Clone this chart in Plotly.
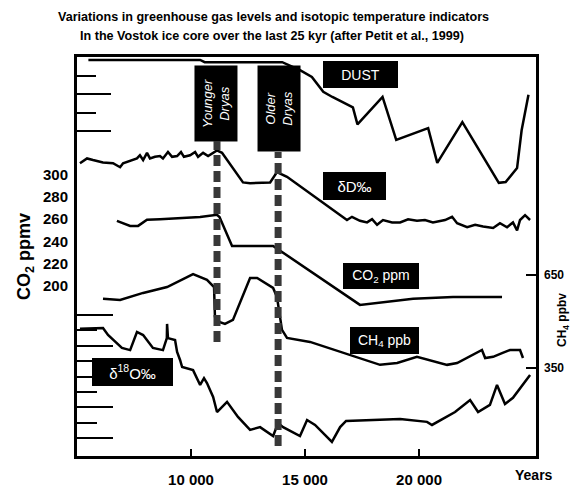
import plotly.graph_objects as go

FONT = "Liberation Sans, Arial, sans-serif"

# ---------------- data ----------------
dust_years = [5500, 8200, 10400, 10600, 12800, 14000, 14800, 15300, 15800, 16200, 17100, 17300,
              18400, 19000, 20400, 20800, 21900, 23500, 23800, 24300, 24500, 24800]
dust_ppm = [0.04, 0.04, 0.04, 0.07, 0.07, 0.07, 0.18, 0.27, 0.47, 0.54, 0.68, 0.91,
            0.54, 1.12, 0.96, 1.43, 0.88, 1.70, 1.69, 1.50, 0.99, 0.51]

dD_years = [5130, 5440, 5700, 6140, 6580, 6890, 7020, 7410, 7630, 7760, 7900, 8070, 8200, 8420,
            8640, 8770, 8990, 9170, 9390, 9560, 9690, 9960, 10180, 10310, 10530, 10750, 11140,
            11360, 11580, 12280, 12590, 13470, 13770, 14210, 16840, 17060, 17410, 17720, 17940,
            18160, 18420, 18820, 19170, 19520, 19910, 20260, 20610, 21140, 21450, 21670, 22110,
            22460, 22810, 23250, 23550, 23860, 24120, 24300, 24430, 24650, 24870]
dD_permil = [-442, -439, -440, -441.5, -442, -444.5, -442, -440, -439, -437, -440, -435.5, -439,
             -438, -437.5, -439, -435, -438, -437.5, -435, -438, -437, -435, -438, -435.5, -437.5,
             -434, -435.5, -440, -454, -454.5, -454, -447.5, -450.5, -477.5, -475.5, -478, -479,
             -477, -480.5, -477.5, -479, -479, -477, -478, -477.5, -479, -477.5, -475.5, -479.5,
             -482, -480.5, -481.5, -482.5, -479.5, -482, -479, -484, -477.5, -474.5, -477.5]

co2_years = [6750, 7330, 7680, 8070, 8640, 9520, 10400, 11140, 11250, 11800, 13600, 17410,
             19740, 21490, 23640]
co2_ppmv = [258.5, 254, 254, 259.5, 260, 261, 262, 264, 262, 236, 236, 183, 188.5, 190, 190]

ch4_years = [6140, 6890, 7900, 8950, 10090, 10700, 11010, 11050, 11270, 11490, 11840, 12590,
             12900, 13600, 13770, 13990, 14210, 15220, 18290, 19040, 19910, 21230, 21670, 22370,
             22760, 22900, 23250, 23640, 23990, 24430, 24560]
ch4_ppbv = [573, 569, 592, 611, 653, 634, 611, 515, 498, 492, 505, 640, 640, 608, 579, 473,
            447, 434, 360, 366, 386, 360, 366, 392, 408, 382, 386, 398, 408, 408, 382]

d18o_years = [5130, 5700, 6140, 6360, 6970, 7330, 7630, 7900, 8330, 8770, 8940, 8950, 8990,
              9300, 9390, 9520, 9610, 10090, 10400, 10570, 10700, 10970, 11140, 11580, 12060,
              12590, 13030, 13600, 13820, 14040, 14780, 15090, 15440, 16180, 16540, 16800,
              17850, 19170, 20350, 20570, 21580, 22240, 22590, 23110, 23420, 23770, 24120, 24870]
d18o_permil = [-54.45, -54.42, -54.42, -54.65, -55.07, -55.14, -54.55, -54.65, -55.07, -55.14,
               -54.75, -54.29, -54.75, -54.81, -55.2, -55.46, -55.69, -55.79, -56.27, -56.05,
               -56.21, -56.66, -57.15, -56.82, -57.31, -57.73, -57.64, -57.93, -57.51, -57.64,
               -57.93, -57.41, -57.57, -58.12, -57.64, -57.44, -57.41, -57.38, -57.47, -57.57,
               -57.15, -56.76, -57.15, -56.92, -56.27, -56.89, -56.69, -55.95]

event_names = ["Younger<br>Dryas", "Older<br>Dryas"]
event_years = [11140, 13820]

x_ticks = [10000, 15000, 20000]
x_ticktext = ["10 000", "15 000", "20 000"]
co2_labels = [200, 220, 240, 260, 280, 300]
co2_major = [200, 220, 240, 260, 280]
co2_minor = [190, 210, 230, 250, 270, 290]
dust_major = [0.5, 1.0]
dust_minor = [0.25, 0.75]
d18o_major = [-54, -55, -56, -57, -58]
d18o_minor = [-54.5, -55.5, -56.5, -57.5]
ch4_ticks = [350, 650]

# ---------------- figure ----------------
fig = go.Figure()
line = dict(color="black", width=2.5)
fig.add_trace(go.Scatter(x=dust_years, y=dust_ppm, mode="lines", line=line, yaxis="y3", name="Dust"))
fig.add_trace(go.Scatter(x=dD_years, y=dD_permil, mode="lines", line=line, yaxis="y4", name="δD"))
fig.add_trace(go.Scatter(x=co2_years, y=co2_ppmv, mode="lines", line=line, yaxis="y", name="CO2"))
fig.add_trace(go.Scatter(x=ch4_years, y=ch4_ppbv, mode="lines", line=line, yaxis="y2", name="CH4"))
fig.add_trace(go.Scatter(x=d18o_years, y=d18o_permil, mode="lines", line=line, yaxis="y5", name="δ18O"))

# event dashed lines
ev_span = [(0.286, 0.789), (0.025, 0.762)]
for yr, (y0, y1) in zip(event_years, ev_span):
    fig.add_shape(type="line", xref="x", yref="paper", x0=yr, x1=yr, y0=y0, y1=y1,
                  line=dict(color="#383838", width=7, dash="11px,5px"))


def box(text, x, y, w, h, size=14, angle=0, italic=False):
    fig.add_annotation(text=(f"<i>{text}</i>" if italic else text), xref="paper", yref="paper",
                       x=x, y=y, xanchor="center", yanchor="middle", showarrow=False,
                       width=w, height=h, bgcolor="black", borderpad=0, borderwidth=0,
                       textangle=angle, font=dict(family=FONT, size=size, color="white"))


box(event_names[0], 0.3017, 0.8847, 76, 43, size=13, angle=-90, italic=True)
box(event_names[1], 0.4412, 0.8697, 86, 43, size=13, angle=-90, italic=True)
box("DUST", 0.6176, 0.9561, 75, 27, size=14)
box("δD‰", 0.6046, 0.6767, 63, 28, size=15)
box("CO<sub>2</sub> ppm", 0.6623, 0.4511, 76, 26, size=14)
box("CH<sub>4</sub> ppb", 0.6699, 0.2895, 69, 27, size=14)
box("δ<sup>18</sup>O‰", 0.1209, 0.2105, 81, 28, size=15)


def label(text, x, y, size, angle=0):
    fig.add_annotation(text=f"<b>{text}</b>", xref="paper", yref="paper", x=x, y=y,
                       xanchor="center", yanchor="middle", showarrow=False, textangle=angle,
                       font=dict(family=FONT, size=size, color="black"))


label("Variations in greenhouse gas levels and isotopic temperature indicators",
      0.429, (456 - 17.5) / 399, 12.6)
label("In the Vostok ice core over the last 25 kyr (after Petit et al., 1999)",
      0.425, (456 - 36) / 399, 12.6)
label("Years", (534 - 77) / 459, (456 - 475) / 399, 14)
label("CH<sub>4</sub> ppbv", (563 - 77) / 459, (456 - 320) / 399, 12, angle=-90)

hidden = dict(showgrid=False, zeroline=False, showticklabels=False, showline=False,
              overlaying="y", anchor="x", side="left", automargin=False)

fig.update_layout(
    width=573, height=487,
    margin=dict(l=77, r=37, t=57, b=31, autoexpand=False),
    paper_bgcolor="white", plot_bgcolor="white",
    showlegend=False,
    font=dict(family=FONT, color="black"),
    xaxis=dict(range=[5000, 25130], showgrid=False, zeroline=False, automargin=False,
               showline=True, linewidth=3, linecolor="black", mirror=True,
               tickmode="array", tickvals=x_ticks, ticktext=x_ticktext,
               ticks="inside", ticklen=7, tickwidth=2, tickcolor="black",
               ticklabelstandoff=8,
               tickfont=dict(family=FONT, size=15, color="black", weight="bold")),
    yaxis=dict(range=[47.2, 405.8], showgrid=False, zeroline=False, automargin=False,
               showline=True, linewidth=3, linecolor="black", mirror=True,
               tickmode="array", tickvals=co2_labels, ticks="", ticklabelstandoff=3,
               tickfont=dict(family=FONT, size=15, color="black", weight="bold"),
               title=dict(text="<b>CO<sub>2</sub> ppmv</b>", standoff=8,
                          font=dict(family=FONT, size=18, color="black"))),
    yaxis2=dict(range=[66, 1353], showgrid=False, zeroline=False, showline=False,
                overlaying="y", anchor="x", side="right", automargin=False,
                tickmode="array", tickvals=ch4_ticks, ticks="inside", ticklen=10,
                tickwidth=2, tickcolor="black", ticklabelstandoff=7,
                tickfont=dict(family=FONT, size=12, color="black", weight="bold")),
    yaxis3=dict(range=[5.39, 0], tickmode="array", tickvals=dust_major, ticks="inside",
                ticklen=34, tickwidth=2, tickcolor="black",
                minor=dict(tickmode="array", tickvals=dust_minor, ticks="inside", ticklen=19,
                           tickwidth=2, tickcolor="black", showgrid=False),
                **hidden),
    yaxis4=dict(range=[-625, -375.6], ticks="", **hidden),
    yaxis5=dict(range=[-58.578, -45.623], tickmode="array", tickvals=d18o_major, ticks="inside",
                ticklen=36, tickwidth=2, tickcolor="black",
                minor=dict(tickmode="array", tickvals=d18o_minor, ticks="inside", ticklen=20,
                           tickwidth=2, tickcolor="black", showgrid=False),
                **hidden),
    yaxis6=dict(range=[47.2, 405.8], tickmode="array", tickvals=co2_major, ticks="inside",
                ticklen=37, tickwidth=2, tickcolor="black",
                minor=dict(tickmode="array", tickvals=co2_minor, ticks="inside", ticklen=21,
                           tickwidth=2, tickcolor="black", showgrid=False),
                **hidden),
)

fig.write_html("out.html", config={"displayModeBar": False},
               post_script="document.body.style.margin='0';")
